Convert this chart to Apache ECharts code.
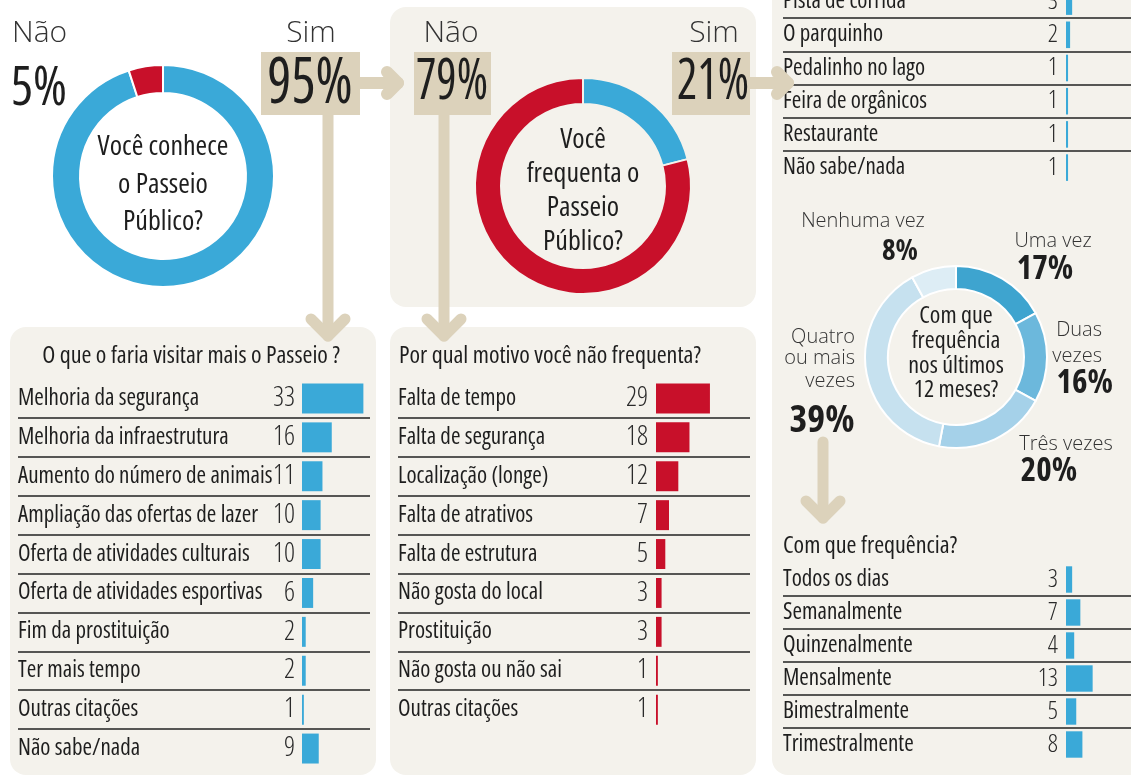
<!DOCTYPE html>
<html>
<head>
<meta charset="utf-8">
<script src="https://cdn.jsdelivr.net/npm/echarts@6/dist/echarts.min.js"></script>
<style>
  html, body { margin: 0; padding: 0; background: #ffffff; }
  #chart { width: 1131px; height: 778px; }
</style>
</head>
<body>
<div id="chart"></div>
<script>
// Survey about the Passeio Público park

const knowCats = ['Sim', 'Não'];
const knowValues = [95, 5];

const attendCats = ['Sim', 'Não'];
const attendValues = [21, 79];

const visitCats = [
  'Melhoria da segurança', 'Melhoria da infraestrutura', 'Aumento do número de animais',
  'Ampliação das ofertas de lazer', 'Oferta de atividades culturais', 'Oferta de atividades esportivas',
  'Fim da prostituição', 'Ter mais tempo', 'Outras citações', 'Não sabe/nada'
];
const visitValues = [33, 16, 11, 10, 10, 6, 2, 2, 1, 9];

const reasonCats = [
  'Falta de tempo', 'Falta de segurança', 'Localização (longe)', 'Falta de atrativos',
  'Falta de estrutura', 'Não gosta do local', 'Prostituição', 'Não gosta ou não sai', 'Outras citações'
];
const reasonValues = [29, 18, 12, 7, 5, 3, 3, 1, 1];

const likeCats = ['Pista de corrida', 'O parquinho', 'Pedalinho no lago', 'Feira de orgânicos', 'Restaurante', 'Não sabe/nada'];
const likeValues = [3, 2, 1, 1, 1, 1];

const timesCats = ['Uma vez', 'Duas vezes', 'Três vezes', 'Quatro ou mais vezes', 'Nenhuma vez'];
const timesValues = [17, 16, 20, 39, 8];

const freqCats = ['Todos os dias', 'Semanalmente', 'Quinzenalmente', 'Mensalmente', 'Bimestralmente', 'Trimestralmente'];
const freqValues = [3, 7, 4, 13, 5, 8];

// ---- styling ----
const FAMILY = "'Open Sans', sans-serif";
const BLUE = '#3aa9d8';
const RED = '#c8102a';
const BEIGE = '#dcd2bb';
const PANEL = '#f4f2ec';
const INK = '#1e1e1e';
const SOFT = '#333333';
const TIMES_COLORS = ['#3ea4cf', '#6cb8dc', '#a5d1e9', '#c6e1ef', '#ddedf5'];

const chart = echarts.init(document.getElementById('chart'), null, { renderer: 'canvas' });

// free text; condensed face by default, optional horizontal squeeze
function text(str, x, y, size, opts) {
  opts = opts || {};
  const stretch = opts.stretch === undefined ? 'condensed' : opts.stretch;
  return {
    type: 'text', z: 20, silent: true,
    x: x, y: y, scaleX: opts.scaleX || 1,
    style: {
      text: str, x: 0, y: 0,
      font: (opts.weight || 'normal') + ' ' + stretch + ' ' + size + 'px ' + FAMILY,
      fill: opts.color || INK,
      align: opts.align || 'left',
      verticalAlign: 'middle'
    }
  };
}
function lightText(str, x, y, size, align) {
  return text(str, x, y, size, { weight: '300', stretch: 'normal', color: SOFT, align: align });
}
function panel(x, y, w, h) {
  return { type: 'rect', z: -10, silent: true, shape: { x: x, y: y, width: w, height: h, r: 16 }, style: { fill: PANEL } };
}
function box(x, y, w, h) {
  return { type: 'rect', z: 5, silent: true, shape: { x: x, y: y, width: w, height: h }, style: { fill: BEIGE } };
}
function stroke(points, w) {
  return {
    type: 'polyline', z: 4, silent: true, shape: { points: points },
    style: { stroke: BEIGE, lineWidth: w, fill: null, lineCap: 'round', lineJoin: 'round' }
  };
}
function arrowRight(x0, x1, y) {
  return [stroke([[x0, y], [x1, y]], 12), stroke([[x1 - 11, y - 11], [x1, y], [x1 - 11, y + 11]], 12)];
}
function arrowDown(x, y0, y1) {
  return [stroke([[x, y0], [x, y1]], 11), stroke([[x - 17, y1 - 17], [x, y1], [x + 17, y1 - 17]], 11)];
}

// horizontal bar lists: the grid spans the full row width and the value
// axis is shifted so that zero sits where the bars begin
function listParts(idx, cats, values, color, cfg) {
  const min = -(cfg.barStart - cfg.left) / cfg.ppu;
  const max = (cfg.left + cfg.width - cfg.barStart) / cfg.ppu;
  return {
    grid: {
      left: cfg.left, top: cfg.top, width: cfg.width, height: cfg.rowH * cats.length,
      containLabel: false, outerBoundsMode: 'none'
    },
    xAxis: { type: 'value', gridIndex: idx, min: min, max: max, show: false },
    yAxis: {
      type: 'category', gridIndex: idx, data: cats, inverse: true,
      axisLine: { show: false }, axisTick: { show: false },
      axisLabel: {
        inside: true, margin: 0, align: 'left', fontFamily: FAMILY, fontWeight: 'normal condensed',
        fontSize: cfg.fontSize, color: INK
      },
      splitLine: { show: true, showMinLine: false, showMaxLine: false, lineStyle: { color: '#222', width: 1.5 } }
    },
    series: {
      type: 'bar', xAxisIndex: idx, yAxisIndex: idx, data: values,
      barCategoryGap: cfg.gap, itemStyle: { color: color }, silent: true,
      label: {
        show: true, position: 'left', distance: cfg.labelGap, fontFamily: FAMILY,
        fontWeight: '300 condensed', fontSize: cfg.numSize, color: '#2a2a2a'
      }
    }
  };
}

const lists = [
  listParts(0, visitCats, visitValues, BLUE, { left: 18, width: 352, top: 379, rowH: 38.9, barStart: 302, ppu: 1.86, gap: '23%', fontSize: 23, numSize: 27, labelGap: 7 }),
  listParts(1, reasonCats, reasonValues, RED, { left: 398, width: 352, top: 379, rowH: 38.9, barStart: 656, ppu: 1.86, gap: '23%', fontSize: 23, numSize: 27, labelGap: 8 }),
  listParts(2, likeCats, likeValues, BLUE, { left: 783, width: 348, top: -15, rowH: 33.2, barStart: 1066, ppu: 2.05, gap: '20%', fontSize: 23, numSize: 25, labelGap: 8 }),
  listParts(3, freqCats, freqValues, BLUE, { left: 783, width: 348, top: 563, rowH: 33, barStart: 1066, ppu: 2.05, gap: '20%', fontSize: 23, numSize: 25, labelGap: 8 })
];

function donut(center, radius, cats, values, colors, gapColor) {
  return {
    type: 'pie', center: center, radius: radius, startAngle: 90, clockwise: true,
    silent: true, animation: false, label: { show: false }, labelLine: { show: false },
    emphasis: { disabled: true },
    itemStyle: { borderColor: gapColor, borderWidth: 2 },
    data: cats.map((c, i) => ({ name: c, value: values[i], itemStyle: { color: colors[i] } }))
  };
}

const pct = v => v + '%';

const graphics = [
  panel(390, 7, 366, 300),
  panel(10, 327, 366, 448),
  panel(390, 327, 366, 448),
  panel(772, -20, 380, 795),

  // first question
  lightText(knowCats[1], 12, 33, 30, 'left'),
  text(pct(knowValues[1]), 11, 90, 54, { scaleX: 0.96 }),
  lightText(knowCats[0], 311, 33, 30, 'center'),
  box(261, 52, 99, 63),
  text(pct(knowValues[0]), 310, 85, 63, { align: 'center', scaleX: 0.9 }),
  text('Você conhece', 163, 147, 28, { align: 'center' }),
  text('o Passeio', 163, 185, 28, { align: 'center' }),
  text('Público?', 163, 222, 28, { align: 'center' }),
  ...arrowRight(358, 398, 83),
  ...arrowDown(328, 112, 336),

  // second question
  lightText(attendCats[1], 451, 33, 30, 'center'),
  box(414, 52, 77, 63),
  text(pct(attendValues[1]), 452, 83, 57, { align: 'center', scaleX: 0.84 }),
  lightText(attendCats[0], 714, 33, 30, 'center'),
  box(672, 52, 78, 63),
  text(pct(attendValues[0]), 713, 83, 57, { align: 'center', scaleX: 0.84 }),
  text('Você', 583, 140, 28, { align: 'center' }),
  text('frequenta o', 583, 174, 28, { align: 'center' }),
  text('Passeio', 583, 208, 28, { align: 'center' }),
  text('Público?', 583, 242, 28, { align: 'center' }),
  ...arrowRight(748, 788, 83),
  ...arrowDown(444, 112, 336),

  // list titles
  text('O que o faria visitar mais o Passeio ?', 191, 356, 24, { align: 'center' }),
  text('Por qual motivo você não frequenta?', 399, 356, 24),
  text('Com que frequência?', 783, 546, 24),

  // visits in the last 12 months
  text('Com que', 956, 316, 24, { align: 'center' }),
  text('frequência', 956, 341, 24, { align: 'center' }),
  text('nos últimos', 956, 366, 24, { align: 'center' }),
  text('12 meses?', 956, 390, 24, { align: 'center' }),
  lightText('Nenhuma vez', 863, 221, 20, 'center'),
  text(pct(timesValues[4]), 900, 252, 29, { weight: 'bold', align: 'center' }),
  lightText('Uma vez', 1053, 241, 20, 'center'),
  text(pct(timesValues[0]), 1045, 270, 33, { weight: 'bold', align: 'center' }),
  lightText('Duas', 1102, 330, 20, 'right'),
  lightText('vezes', 1102, 356, 20, 'right'),
  text(pct(timesValues[1]), 1113, 384, 33, { weight: 'bold', align: 'right' }),
  lightText('Três vezes', 1066, 444, 20, 'center'),
  text(pct(timesValues[2]), 1049, 472, 33, { weight: 'bold', align: 'center' }),
  lightText('Quatro', 855, 337, 20, 'right'),
  lightText('ou mais', 855, 358, 20, 'right'),
  lightText('vezes', 855, 381, 20, 'right'),
  text(pct(timesValues[3]), 822, 421, 38, { weight: 'bold', align: 'center' }),
  ...arrowDown(823, 442, 518)
];

const option = {
  backgroundColor: '#ffffff',
  animation: false,
  grid: lists.map(l => l.grid),
  xAxis: lists.map(l => l.xAxis),
  yAxis: lists.map(l => l.yAxis),
  series: [
    ...lists.map(l => l.series),
    donut([163, 176], [83, 111], knowCats, knowValues, [BLUE, RED], '#ffffff'),
    donut([583, 186], [82, 108], attendCats, attendValues, [BLUE, RED], PANEL),
    donut([956, 357], [68, 91], timesCats, timesValues, TIMES_COLORS, '#ffffff')
  ],
  graphic: graphics
};

chart.setOption(option);
</script>
</body>
</html>
